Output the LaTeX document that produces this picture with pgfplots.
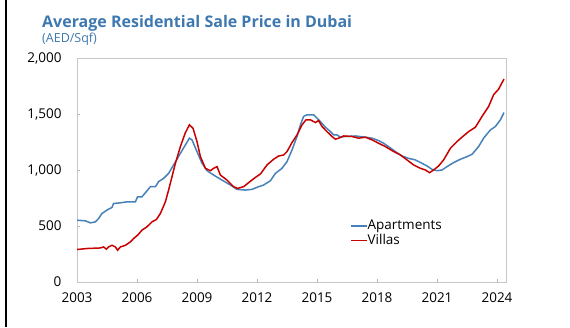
\documentclass[border=0pt]{standalone}
\usepackage{pgfplots}
\pgfplotsset{compat=1.18}
\usepackage{fontspec}
\setmainfont{Open Sans}
\definecolor{aptblue}{RGB}{70,130,185}
\definecolor{villared}{RGB}{200,0,0}
\definecolor{titleblue}{RGB}{62,120,176}
\begin{document}
\begin{tikzpicture}[x=1pt,y=1pt]
\useasboundingbox (0,0) rectangle (570,327);
\fill[black] (5,0) rectangle (7,327);
\node[anchor=base west, inner sep=0, font=\fontsize{16}{18}\selectfont\bfseries, text=titleblue] at (42,299.3) {Average Residential Sale Price in Dubai};
\node[anchor=base west, inner sep=0, font=\fontsize{12.5}{14}\selectfont, text=titleblue] at (42,284.8) {(AED/Sqf)};
\begin{axis}[
  at={(77pt,45pt)}, anchor=south west,
  width=429pt, height=224pt, scale only axis,
  xmin=2003, xmax=2024.45, ymin=0, ymax=2000,
  xtick={2003,2006,...,2024}, ytick={0,500,...,2000},
  axis line style={draw=black!22, line width=0.9pt},
  tick style={draw=black!30, line width=0.8pt},
  tick align=inside, major tick length=3pt,
  xtick pos=bottom, ytick pos=left,
  /pgf/number format/assume math mode=true,
  xticklabel={\pgfmathprintnumber[1000 sep={}]{\tick}},
  yticklabel style={/pgf/number format/1000 sep={,}},
  ticklabel style={font=\fontsize{13.5}{15}\selectfont},
  xticklabel style={yshift=-7pt},
  yticklabel style={xshift=-12pt},
  legend cell align=left,
  legend style={draw=none, fill=none, at={(0.636,0.283)}, anchor=north west, inner sep=0pt, font=\fontsize{13.5}{15}\selectfont, row sep=0pt, nodes={inner xsep=0pt, inner ysep=1.5pt}},
  legend image code/.code={\draw[#1, line width=1.6pt] (0pt,0pt) -- (16pt,0pt);},
]
\addplot[aptblue, line width=1.5pt] coordinates {
(2003.0,552) (2003.42,546) (2003.67,528) (2003.92,537) (2004.08,567) (2004.25,612) (2004.5,642) (2004.75,666) (2004.83,701) (2005.17,707) (2005.5,716) (2005.92,716) (2006.03,761) (2006.25,761) (2006.42,797) (2006.67,851) (2006.92,851) (2007.08,896) (2007.33,925) (2007.58,970) (2007.83,1045) (2008.17,1149) (2008.42,1224) (2008.62,1284) (2008.75,1269) (2009.0,1164) (2009.25,1060) (2009.5,994) (2009.83,955) (2010.25,910) (2010.67,866) (2011.0,827) (2011.42,821) (2011.75,827) (2012.08,851) (2012.33,866) (2012.67,904) (2012.92,970) (2013.25,1015) (2013.5,1075) (2013.75,1179) (2014.0,1299) (2014.17,1403) (2014.33,1478) (2014.5,1493) (2014.67,1493) (2014.83,1493) (2015.0,1463) (2015.17,1433) (2015.42,1382) (2015.67,1343) (2015.83,1313) (2016.0,1313) (2016.17,1293) (2016.42,1299) (2016.92,1304) (2017.42,1293) (2017.75,1284) (2018.08,1263) (2018.33,1239) (2018.58,1209) (2018.92,1164) (2019.25,1125) (2019.58,1104) (2019.92,1090) (2020.25,1060) (2020.5,1036) (2020.75,1006) (2021.0,994) (2021.25,1000) (2021.5,1030) (2021.83,1066) (2022.17,1096) (2022.5,1119) (2022.75,1140) (2023.08,1209) (2023.33,1284) (2023.67,1358) (2023.92,1388) (2024.17,1448) (2024.35,1513)
};
\addlegendentry{Apartments}
\addplot[villared, line width=1.5pt] coordinates {
(2003.0,290) (2003.5,299) (2004.17,304) (2004.33,313) (2004.47,293) (2004.58,313) (2004.75,328) (2004.92,313) (2005.03,284) (2005.17,313) (2005.42,328) (2005.67,358) (2005.83,388) (2006.03,418) (2006.25,463) (2006.5,493) (2006.75,537) (2006.97,558) (2007.17,612) (2007.42,716) (2007.58,821) (2007.75,940) (2007.92,1060) (2008.17,1209) (2008.42,1334) (2008.62,1403) (2008.8,1373) (2009.0,1254) (2009.17,1119) (2009.42,1015) (2009.67,994) (2009.83,1015) (2010.0,1030) (2010.17,955) (2010.5,910) (2010.83,851) (2011.03,836) (2011.33,851) (2011.58,887) (2011.92,934) (2012.17,964) (2012.5,1045) (2012.83,1096) (2013.08,1125) (2013.33,1134) (2013.5,1164) (2013.75,1245) (2014.0,1313) (2014.25,1403) (2014.45,1448) (2014.67,1448) (2014.92,1424) (2015.08,1442) (2015.25,1388) (2015.5,1343) (2015.75,1299) (2015.92,1275) (2016.08,1284) (2016.33,1304) (2016.75,1299) (2017.08,1284) (2017.42,1293) (2017.75,1269) (2018.08,1239) (2018.42,1209) (2018.75,1173) (2019.17,1134) (2019.5,1090) (2019.83,1045) (2020.17,1015) (2020.42,1000) (2020.63,976) (2020.83,1000) (2021.08,1036) (2021.33,1090) (2021.67,1194) (2022.0,1254) (2022.25,1293) (2022.58,1343) (2022.92,1382) (2023.25,1478) (2023.58,1567) (2023.83,1672) (2024.08,1722) (2024.35,1812)
};
\addlegendentry{Villas}
\end{axis}
\end{tikzpicture}
\end{document}
